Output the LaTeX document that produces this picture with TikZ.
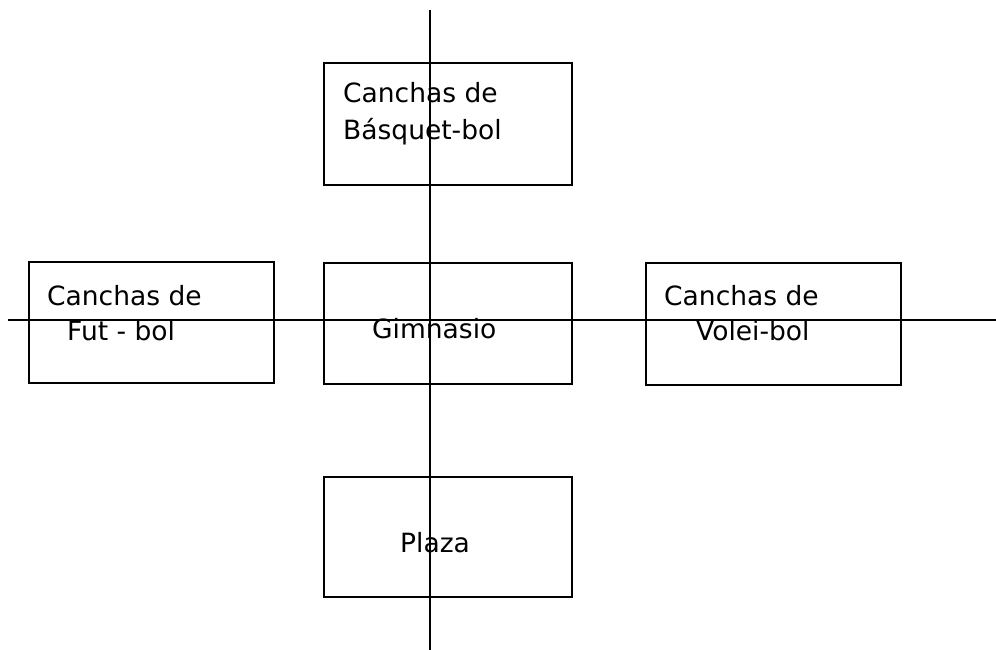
\documentclass[tikz,border=0pt]{standalone}
\usepackage{fontspec}
\setmainfont{DejaVu Sans}
\usepackage{tikz}
\usetikzlibrary{positioning}

\begin{document}
\begin{tikzpicture}[x=1pt,y=-1pt,
      area/.style={draw=black,line width=2pt,fill=none,minimum width=248pt,minimum height=121pt,inner sep=0pt},
      label/.style={anchor=base west,inner sep=0pt,font=\fontsize{26.5}{31}\selectfont},
      axis/.style={draw=black,line width=2pt}
    ]
      \useasboundingbox (0,0) rectangle (996,650);

      \node[area] (gim) at (448,323) {};
      \node[area] (bas) at (448,124) {};
      \node[area,minimum width=245pt] (fut) at (151.5,322.5) {};
      \node[area,minimum width=255pt,minimum height=122pt] (vol) at (773.5,323.5) {};
      \node[area,minimum height=120pt] (pla) at (448,537) {};

      \node[label] (basA) at (343,103) {Canchas de};
      \node[label] (basB) at (343,140) {Básquet-bol};
      \node[label] (futA) at (47,305) {Canchas de};
      \node[label] (futB) at (67,340) {Fut - bol};
      \node[label] (volA) at (664,305) {Canchas de};
      \node[label] (volB) at (696,340) {Volei-bol};
      \node[label] (gimA) at (372,338) {Gimnasio};
      \node[label] (plaA) at (400,552) {Plaza};

      % ejes
      \coordinate (north) at (430,10);
      \coordinate (south) at (430,650);
      \coordinate (west) at (8,320);
      \coordinate (east) at (996,320);
      \draw[axis] (north) -- (south);
      \draw[axis] (west) -- (east);
    \end{tikzpicture}
\end{document}
